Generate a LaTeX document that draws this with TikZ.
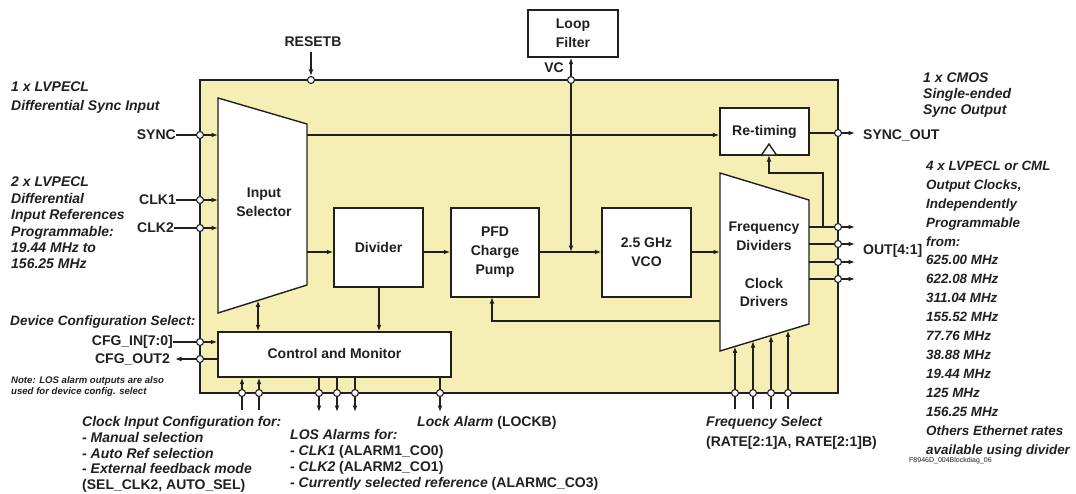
\documentclass[tikz,border=0pt]{standalone}
\usepackage{fontspec}
\setmainfont{Liberation Sans}
\usetikzlibrary{arrows.meta,calc}
\definecolor{ink}{HTML}{231F20}
\definecolor{chip}{HTML}{F5EEB5}
\newcommand\myfs[1]{\fontsize{14}{#1}\selectfont\bfseries\itshape}
\begin{document}
\begin{tikzpicture}[x=1pt,y=-1pt,
 blk/.style={draw=ink, fill=white, line width=1.4pt, inner sep=0, font=\fontsize{14}{19}\selectfont\bfseries, text=ink, align=center},
 pinc/.style={circle, draw=ink, fill=white, line width=1.1pt, inner sep=0, minimum size=7pt},
 wire/.style={draw=ink, line width=1.4pt},
 arr/.style={wire, -{Latex[length=6.5pt,width=4.8pt]}},
 darr/.style={wire, {Latex[length=6.5pt,width=4.8pt]}-{Latex[length=6.5pt,width=4.8pt]}},
 lbl/.style={inner sep=0, text=ink, font=\fontsize{14}{19}\selectfont\bfseries},
 ilbl/.style={inner sep=0, text=ink, align=left, anchor=west},
]
\useasboundingbox (0,0) rectangle (1076,493);
\fill[white] (0,0) rectangle (1076,493);

% chip outline
\node[draw=ink, fill=chip, line width=1.5pt, minimum width=638pt, minimum height=313pt, inner sep=0] (chip) at (519,236.5) {};

% blocks
\node[blk, minimum width=90pt, minimum height=47pt] (loop) at (573,33.5) {Loop\\Filter};
\node[blk, minimum width=89pt, minimum height=47pt] (retime) at (764.5,131.5) {Re-timing};
\node[blk, minimum width=89pt, minimum height=79pt] (div) at (378.5,247.5) {\raisebox{-3.5pt}{Divider}};
\node[blk, minimum width=88pt, minimum height=89pt] (pfd) at (495,252.5) {PFD\\Charge\\Pump};
\node[blk, minimum width=89pt, minimum height=89pt] (vco) at (646.5,252.5) {2.5 GHz\\VCO};
\node[blk, minimum width=233pt, minimum height=45pt] (ctrl) at (334.5,354.5) {\raisebox{2pt}{Control and Monitor}};

% input selector trapezoid
\coordinate (is1) at (218,98);
\coordinate (is2) at (307,124);
\coordinate (is3) at (307,285);
\coordinate (is4) at (218,313);
\draw[wire, fill=white] (is1) -- (is2) -- (is3) -- (is4) -- cycle;
\node[lbl, align=center] (islbl) at (264,202.5) {Input\\Selector};

% frequency dividers trapezoid
\coordinate (fd1) at (720,173);
\coordinate (fd2) at (809,200);
\coordinate (fd3) at (809,324);
\coordinate (fd4) at (720,351);
\draw[wire, fill=white] (fd1) -- (fd2) -- (fd3) -- (fd4) -- cycle;
\node[lbl, align=center, font=\fontsize{14}{18.5}\selectfont\bfseries] (fdlbl) at (764,236) {Frequency\\Dividers};
\node[lbl, align=center, font=\fontsize{14}{18.5}\selectfont\bfseries] (cdlbl) at (764,292.5) {Clock\\Drivers};

% re-timing clock triangle
\coordinate (tribase) at (769,155);
\draw[wire, fill=white] (761.5,155) -- (776.5,155) -- (769,144) -- cycle;

% left inputs
\node[pinc] (psync) at (200,135) {};
\node[lbl, anchor=east] (lsync) at (176,135) {SYNC};
\draw[wire] (lsync.east) -- (psync);
\draw[arr] (psync) -- (psync -| is1);
\draw[arr] (is2 |- psync) -- (retime.west |- psync);

\node[pinc] (pclk1) at (200,200) {};
\node[lbl, anchor=east] (lclk1) at (176,200) {CLK1};
\draw[wire] (lclk1.east) -- (pclk1);
\draw[arr] (pclk1) -- (pclk1 -| is1);

\node[pinc] (pclk2) at (200,228) {};
\node[lbl, anchor=east] (lclk2) at (174,228) {CLK2};
\draw[wire] (lclk2.east) -- (pclk2);
\draw[arr] (pclk2) -- (pclk2 -| is1);

\node[pinc] (pcfgi) at (200,342) {};
\node[lbl, anchor=east] (lcfgi) at (173,342) {CFG\_IN[7:0]};
\draw[wire] (lcfgi.east) -- (pcfgi);
\draw[arr] (pcfgi) -- (pcfgi -| ctrl.west);

\node[pinc] (pcfgo) at (200,359) {};
\node[lbl, anchor=east] (lcfgo) at (170,359) {CFG\_OUT2};
\coordinate (cfgotip) at (175,359);
\draw[wire] (ctrl.west |- pcfgo) -- (pcfgo);
\draw[arr] (pcfgo) -- (cfgotip);

% reset
\node[lbl] (lreset) at (313,42) {RESETB};
\node[pinc] (preset) at (311,80) {};
\draw[arr, shorten <=5pt] (lreset.south -| preset) -- (preset);

% VC / loop filter
\node[pinc] (pvc) at (571,80) {};
\node[lbl, anchor=east] (lvc) at (564,68) {VC};
\coordinate (vcj) at (571,252);
\draw[arr] (pvc) -- (loop.south -| pvc);
\draw[arr] (pvc) -- (vcj);

% signal chain
\draw[arr] (is3 |- 0,252) -- (div.west |- 0,252);
\draw[arr] (div.east |- 0,252) -- (pfd.west |- 0,252);
\draw[arr] (pfd.east |- 0,252) -- (vco.west |- 0,252);
\draw[arr] (vco.east |- 0,252) -- (fd1 |- 0,252);
\coordinate (divc) at (379,287);
\draw[arr] (divc) -- (ctrl.north -| divc);
\coordinate (isb) at (258,300.4);
\draw[darr] (isb) -- (ctrl.north -| isb);

% feedback to PFD
\coordinate (fbp) at (720,321);
\coordinate (pfdin) at (492,297);
\draw[arr] (fbp) -| (pfdin);

% outputs
\foreach \y [count=\i] in {227,244,262,279} {
  \node[pinc] (po\i) at (838,\y) {};
  \coordinate (pe\i) at (855,\y);
  \draw[wire] (fd2 |- po\i) -- (po\i);
  \draw[arr] (po\i) -- (pe\i);
}
\coordinate (fb1) at (823,227);
\coordinate (fb2) at (769,173);
\draw[arr] (fb1) |- (fb2) -- (tribase);

\node[pinc] (pso) at (838,133) {};
\coordinate (psoe) at (855,133);
\draw[wire] (retime.east |- pso) -- (pso);
\draw[arr] (pso) -- (psoe);
\node[lbl, anchor=west] (lso) at (863,135) {SYNC\_OUT};
\node[lbl, anchor=west] (lout) at (863,251) {OUT[4:1]};

% control inputs at bottom
\foreach \x [count=\i] in {242,259} {
  \node[pinc] (pc\i) at (\x,393) {};
  \coordinate (pcb\i) at (\x,410);
  \draw[wire] (pcb\i) -- (pc\i);
  \draw[arr] (pc\i) -- (ctrl.south -| pc\i);
}
% control outputs
\foreach \x [count=\i] in {319,337,355,440} {
  \node[pinc] (pa\i) at (\x,393) {};
  \coordinate (pae\i) at (\x,412);
  \draw[wire] (ctrl.south -| pa\i) -- (pa\i);
  \draw[arr] (pa\i) -- (pae\i);
}
% frequency select
\foreach \x/\yy [count=\i] in {735/346.4,753/341,771/335.5,788/330.4} {
  \node[pinc] (pr\i) at (\x,393) {};
  \coordinate (prb\i) at (\x,409);
  \coordinate (prt\i) at (\x,\yy);
  \draw[wire] (prb\i) -- (pr\i);
  \draw[arr] (pr\i) -- (prt\i);
}

% annotations
\node[ilbl, font=\myfs{19}] (tA) at (11,97.5) {1 x LVPECL\\Differential Sync Input};
\node[ilbl, font=\myfs{16.4}] (tB) at (11,223) {2 x LVPECL\\Differential\\Input References\\Programmable:\\19.44 MHz to\\156.25 MHz};
\node[ilbl, font=\fontsize{13.6}{16}\selectfont\bfseries\itshape] (tC) at (10,322) {Device Configuration Select:};
\node[ilbl, font=\fontsize{9.6}{11.5}\selectfont\bfseries\itshape] (tD) at (11,386.5) {Note: LOS alarm outputs are also\\used for device config. select};
\node[ilbl, font=\myfs{15.75}] (tE) at (82,454.5) {Clock Input Configuration for:\\- Manual selection\\- Auto Ref selection\\- External feedback mode\\{\upshape (SEL\_CLK2, AUTO\_SEL)}};
\node[ilbl, font=\myfs{16}] (tF) at (417,423) {Lock Alarm {\upshape (LOCKB)}};
\node[ilbl, font=\myfs{16}] (tG) at (290,460) {LOS Alarms for:\\ - CLK1 {\upshape (ALARM1\_CO0)}\\ - CLK2 {\upshape (ALARM2\_CO1)}\\ - Currently selected reference {\upshape (ALARMC\_CO3)}};
\node[ilbl, font=\myfs{20}] (tH) at (706,433) {Frequency Select\\{\upshape (RATE[2:1]A, RATE[2:1]B)}};
\node[ilbl, font=\myfs{16}] (tI) at (923,95) {1 x CMOS\\Single-ended\\Sync Output};
\node[ilbl, font=\fontsize{13.4}{18.93}\selectfont\bfseries\itshape] (tJ) at (926,309) {4 x LVPECL or CML\\Output Clocks,\\Independently\\Programmable\\from:\\625.00 MHz\\622.08 MHz\\311.04 MHz\\155.52 MHz\\77.76 MHz\\38.88 MHz\\19.44 MHz\\125 MHz\\156.25 MHz\\Others Ethernet rates\\available using divider};
\node[ilbl, font=\fontsize{7}{8}\selectfont] (tK) at (909,461) {F8946D\_004Blockdiag\_06};
\end{tikzpicture}
\end{document}
